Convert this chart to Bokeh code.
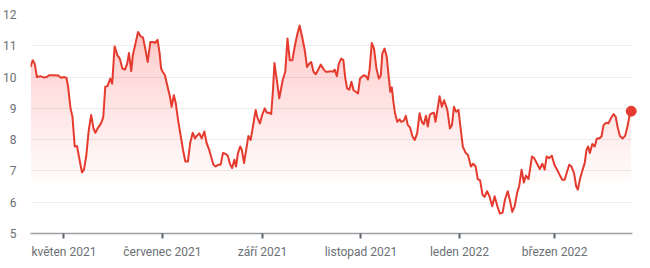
import numpy as np
import pandas as pd
from bokeh.plotting import figure
from bokeh.models import FixedTicker, Range1d
from bokeh.embed import file_html
from bokeh.resources import INLINE

# ---- data ----
BASE_DATE = "2021-05-01"  # day_offset is counted in days from this date

day_offset = [
    -20.7, -19.3, -18.1, -16.7, -14.6, -12.6, -10.6, -9.2, -6.5, -3.5, -1.8, 0.2, 1.6, 2.6, 4.1, 5.3, 6.7,
    8.1, 9.3, 11.2, 12.4, 13.8, 15.4, 16.9, 18.3, 19.5, 20.9, 23.0, 24.4, 25.6, 27.0, 28.7, 29.9, 31.4,
    33.1, 34.6, 36.2, 37.8, 39.2, 40.3, 41.7, 42.7, 44.3, 45.9, 47.4, 49.0, 50.4, 51.9, 53.5, 55.1, 56.5,
    58.0, 59.2, 60.2, 61.2, 62.6, 64.0, 65.7, 66.7, 68.1, 69.3, 70.7, 72.4, 73.8, 75.2, 76.8, 78.2, 79.8, 81.2,
    82.3, 83.9, 85.3, 87.0, 88.4, 90.0, 91.4, 92.6, 94.0, 95.7, 97.1, 98.5, 100.1, 101.6, 102.8, 104.2, 105.6,
    106.6, 107.8, 109.2, 110.2, 111.6, 112.9, 114.3, 115.7, 117.4, 118.8, 120.0, 121.4, 122.8, 124.4, 125.8,
    127.0, 128.4, 129.5, 130.4, 131.9, 133.4,
    135.5, 137.1, 138.5, 139.9, 141.5, 143.1, 144.6, 146.0, 147.6, 149.2, 150.6, 152.0, 153.2, 154.6, 156.0,
    157.6, 159.1, 160.6, 162.1, 163.6, 165.3, 166.7, 167.7, 169.1, 170.3, 171.7, 173.1, 174.2, 175.4, 176.8,
    178.1, 179.4, 180.8, 182.2, 183.4,
    184.4, 185.8, 187.1, 188.3, 189.3, 190.7, 192.1, 193.6, 195.1, 196.3, 197.2, 198.6, 200.0, 201.2, 202.2,
    203.1, 204.1, 205.1, 206.5, 207.9, 209.0, 210.5, 211.8, 213.0, 214.4, 215.8, 217.3, 218.8, 220.3, 221.7,
    222.9, 224.3, 225.4, 226.6, 227.8, 229.2, 230.2, 231.5, 232.7, 234.1, 235.5,
    237.5, 239.1, 240.4, 241.6, 243.0, 244.4, 245.6, 247.1, 248.7, 250.3, 252.1, 253.5, 255.1, 256.3, 257.8,
    259.3, 260.6, 262.1, 263.6, 265.3, 266.8, 268.5, 270.0, 271.7, 273.2, 274.9, 276.2, 277.7, 279.2, 280.7,
    282.0, 283.5, 284.9, 286.2, 287.8,
    289.9, 291.3, 293.1, 294.8, 296.3, 297.8, 299.0, 300.6, 302.2, 303.8, 305.5, 307.0, 308.7, 310.2, 311.7,
    313.0, 314.4, 316.0, 317.3, 318.3, 319.8, 321.3, 322.6, 323.7, 324.7, 325.8, 327.3, 328.8, 330.1, 331.6,
    333.0, 334.3, 335.9, 337.3, 339.1, 340.5, 341.8, 342.9, 344.4, 346.1, 347.6, 349.1, 350.3, 351.4,
]

price = [
    10.32, 10.54, 10.43, 10.00, 10.03, 9.99, 10.00, 10.06, 10.06, 10.05, 9.98, 10.00, 9.97, 9.69, 9.00, 8.73, 7.78,
    7.80, 7.46, 6.95, 7.04, 7.46, 8.31, 8.79, 8.36, 8.22, 8.36, 8.52, 8.73, 9.69, 9.71, 9.95, 9.79, 10.98,
    10.70, 10.59, 10.27, 10.24, 10.43, 10.77, 10.19, 10.70, 11.07, 11.44, 11.31, 11.26, 10.91, 10.48, 11.12, 11.12, 11.09,
    11.19, 10.80, 10.27, 10.17, 10.06, 9.74, 9.37, 9.05, 9.42, 9.16, 8.63, 8.10, 7.67, 7.30, 7.30, 7.89, 8.22, 8.04,
    8.12, 8.20, 8.04, 8.26, 7.89, 7.67, 7.41, 7.20, 7.14, 7.20, 7.20, 7.57, 7.55, 7.48, 7.23, 7.09, 7.36,
    7.14, 7.57, 7.78, 7.67, 7.25, 7.67, 8.12, 7.99, 8.52, 8.95, 8.68, 8.52, 8.79, 9.00, 8.86,
    8.86, 8.82, 9.58, 10.45, 9.90, 9.32,
    9.90, 10.17, 11.23, 10.54, 10.54, 11.01, 11.38, 11.65, 11.28, 10.85, 10.32, 10.43, 10.48, 10.17, 10.09,
    10.24, 10.40, 10.27, 10.17, 10.17, 10.19, 10.17, 10.24, 10.03, 10.43, 10.59, 10.54, 10.00, 9.64, 9.60,
    9.85, 9.58, 9.53, 9.48, 9.95,
    10.00, 10.06, 10.03, 9.92, 10.22, 11.09, 10.91, 10.27, 9.95, 10.06, 10.75, 10.91, 10.64, 10.00, 9.53,
    9.67, 9.21, 8.84, 8.57, 8.65, 8.57, 8.60, 8.76, 8.47, 8.39, 8.12, 7.99, 8.20, 8.84, 8.57,
    8.49, 8.76, 8.42, 8.79, 8.84, 8.86, 8.57, 9.00, 9.39, 9.05, 9.26,
    8.95, 8.36, 8.47, 9.05, 8.89, 8.95, 8.42, 7.78, 7.59, 7.51, 7.14, 7.23, 7.14, 6.74, 6.70,
    6.24, 6.17, 6.35, 6.19, 5.87, 6.19, 5.87, 5.64, 5.66, 6.08, 6.35, 6.08, 5.69, 5.87, 6.29,
    6.51, 7.04, 6.63, 6.85, 6.74,
    7.46, 7.41, 7.23, 7.06, 7.23, 7.04, 7.46, 7.41, 7.49, 7.20, 7.04, 6.88, 6.72, 6.72, 6.98,
    7.20, 7.14, 6.93, 6.51, 6.40, 6.77, 7.04, 7.25, 7.67, 7.78, 7.57, 7.86, 7.78, 8.04, 8.04,
    8.10, 8.47, 8.54, 8.52, 8.71, 8.82, 8.73, 8.42, 8.12, 8.04, 8.12, 8.42, 8.76, 8.91,
]

tick_dates = ["2021-05-01", "2021-07-01", "2021-09-01", "2021-11-01", "2022-01-01", "2022-03-01"]
tick_labels = ["květen 2021", "červenec 2021", "září 2021", "listopad 2021", "leden 2022", "březen 2022"]
y_ticks = [5, 6, 7, 8, 9, 10, 11, 12]

# ---- styles ----
RED = "#e53b2f"
GRID = "#ececec"
LABEL = "#6b7075"
FONT = "Roboto"

base = pd.Timestamp(BASE_DATE)
dates = base + pd.to_timedelta(np.array(day_offset), unit="D")
vals = np.array(price)

x_start = base + pd.Timedelta(days=-20.7)
x_end = base + pd.Timedelta(days=352.2)

p = figure(
    width=650, height=268,
    x_axis_type="datetime",
    x_range=Range1d(x_start, x_end),
    y_range=Range1d(min(y_ticks), max(y_ticks)),
    output_backend="svg", toolbar_location=None,
    min_border_left=25, min_border_right=18, min_border_top=14, min_border_bottom=35,
)
p.outline_line_color = None
p.background_fill_color = "white"
p.border_fill_color = "white"

# gradient fill under the line: stacked translucent bands, opacity growing toward the top
y0, y1 = min(y_ticks), max(y_ticks)
TOP_OPACITY = 0.24
EXP = 1.7
step = 0.1
levels = np.arange(y0, y1, step)
def target(y):
    return TOP_OPACITY * ((y - y0) / (y1 - y0)) ** EXP
for lo in levels:
    a = 1 - (1 - target(lo + step)) / (1 - target(lo))
    p.varea(x=dates, y1=np.minimum(vals, lo), y2=vals, fill_color=RED, fill_alpha=float(a))

p.line(dates, vals, line_color=RED, line_width=2, line_join="round")
p.scatter([dates[-1]], [vals[-1]], size=10, fill_color=RED, line_color=RED, level="overlay")

# axes
tick_ms = [int(pd.Timestamp(d).value // 10**6) for d in tick_dates]
p.xaxis.ticker = FixedTicker(ticks=tick_ms)
p.xaxis.major_label_overrides = {t: l for t, l in zip(tick_ms, tick_labels)}
p.xaxis.minor_tick_line_color = None
p.xaxis.axis_line_color = "#9aa0a6"
p.xaxis.axis_line_width = 1.5
p.xaxis.major_tick_line_color = "#5f6368"
p.xaxis.major_tick_line_width = 2
p.xaxis.major_tick_in = 0
p.xaxis.major_tick_out = 5
p.xaxis.major_label_standoff = 6
p.xaxis.major_label_text_font = FONT
p.xaxis.major_label_text_font_size = "12px"
p.xaxis.major_label_text_color = LABEL

p.yaxis.ticker = FixedTicker(ticks=y_ticks)
p.yaxis.axis_line_color = None
p.yaxis.major_tick_line_color = None
p.yaxis.minor_tick_line_color = None
p.yaxis.major_label_standoff = 8
p.yaxis.major_label_text_font = FONT
p.yaxis.major_label_text_font_size = "12px"
p.yaxis.major_label_text_color = LABEL

p.xgrid.visible = False
p.ygrid.ticker = FixedTicker(ticks=y_ticks)
p.ygrid.grid_line_color = GRID
p.ygrid.grid_line_width = 1

open("out.html", "w").write(file_html(p, INLINE))
